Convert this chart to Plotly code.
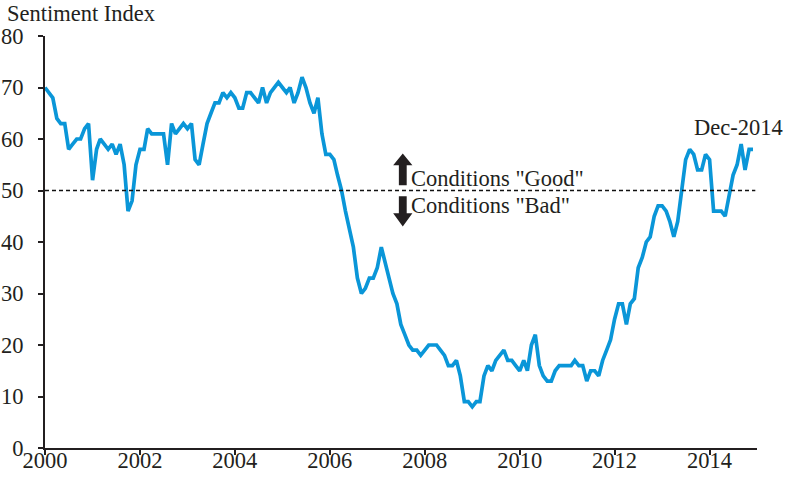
import pandas as pd
import plotly.graph_objects as go

# Monthly sentiment index, Jan 2000 - Dec 2014
values_2000 = [70, 69, 68, 64, 63, 63, 58, 59, 60, 60, 62, 63]
values_2001 = [52, 58, 60, 59, 58, 59, 57, 59, 55, 46, 48, 55]
values_2002 = [58, 58, 62, 61, 61, 61, 61, 55, 63, 61, 62, 63]
values_2003 = [62, 63, 56, 55, 59, 63, 65, 67, 67, 69, 68, 69]
values_2004 = [68, 66, 66, 69, 69, 68, 67, 70, 67, 69, 70, 71]
values_2005 = [70, 69, 70, 67, 69, 72, 70, 67, 65, 68, 61, 57]
values_2006 = [57, 56, 53, 50, 46, 42, 39, 33, 30, 31, 33, 33]
values_2007 = [35, 39, 36, 33, 30, 28, 24, 22, 20, 19, 19, 18]
values_2008 = [19, 20, 20, 20, 19, 18, 16, 16, 17, 14, 9, 9]
values_2009 = [8, 9, 9, 14, 16, 15, 17, 18, 19, 17, 17, 16]
values_2010 = [15, 17, 15, 20, 22, 16, 14, 13, 13, 15, 16, 16]
values_2011 = [16, 16, 17, 16, 16, 13, 15, 15, 14, 17, 19, 21]
values_2012 = [25, 28, 28, 24, 28, 29, 35, 37, 40, 41, 45, 47]
values_2013 = [47, 46, 44, 41, 44, 50, 56, 58, 57, 54, 54, 57]
values_2014 = [56, 46, 46, 46, 45, 49, 53, 55, 59, 54, 58, 58]

sentiment = (values_2000 + values_2001 + values_2002 + values_2003 + values_2004
             + values_2005 + values_2006 + values_2007 + values_2008 + values_2009
             + values_2010 + values_2011 + values_2012 + values_2013 + values_2014)
months = pd.date_range("2000-01-01", periods=len(sentiment), freq="MS")

x_tick_years = ["2000", "2002", "2004", "2006", "2008", "2010", "2012", "2014"]
y_ticks = [0, 10, 20, 30, 40, 50, 60, 70, 80]
threshold = 50

FONT = "Liberation Serif"
FS = 22.5
TXT = "#231f20"
BLUE = "#0a96d8"

fig = go.Figure()
fig.add_trace(go.Scatter(x=months, y=sentiment, mode="lines",
                         line=dict(color=BLUE, width=3.7), hoverinfo="x+y",
                         showlegend=False))

# dashed threshold line
fig.add_shape(type="line", xref="paper", yref="y", x0=0, x1=0.9976,
              y0=threshold, y1=threshold,
              line=dict(color="#111111", width=1.4, dash="4px,3px"))

# arrows (up / down) as filled polygons
cx, hw, sw = 0.5025, 0.0135, 0.0055
up = (f"M {cx-sw} 51.0 L {cx-sw} 54.9 L {cx-hw} 54.9 L {cx} 57.2 "
      f"L {cx+hw} 54.9 L {cx+sw} 54.9 L {cx+sw} 51.0 Z")
down = (f"M {cx-sw} 48.9 L {cx-sw} 45.6 L {cx-hw} 45.6 L {cx} 43.0 "
        f"L {cx+hw} 45.6 L {cx+sw} 45.6 L {cx+sw} 48.9 Z")
for p in (up, down):
    fig.add_shape(type="path", xref="paper", yref="y", path=p,
                  fillcolor="#231f20", line=dict(width=0))

ann_font = dict(family=FONT, size=FS, color=TXT)
fig.add_annotation(xref="paper", yref="y", x=0.5117, y=52.3, text='Conditions "Good"',
                   showarrow=False, xanchor="left", yanchor="middle", font=ann_font)
fig.add_annotation(xref="paper", yref="y", x=0.5117, y=47.1, text='Conditions "Bad"',
                   showarrow=False, xanchor="left", yanchor="middle", font=ann_font)
fig.add_annotation(xref="paper", yref="y", x=0.9735, y=62.3, text="Dec-2014",
                   showarrow=False, xanchor="center", yanchor="middle", font=ann_font)
fig.add_annotation(xref="paper", yref="paper", x=-0.0558, y=1.054, text="Sentiment Index",
                   showarrow=False, xanchor="left", yanchor="middle", font=ann_font)

axis_common = dict(showgrid=False, zeroline=False, showline=True, linecolor=TXT,
                   linewidth=2, ticks="outside", ticklen=5, tickwidth=2,
                   tickcolor=TXT, automargin=False,
                   tickfont=dict(family=FONT, size=FS, color=TXT))

fig.update_layout(
    width=790, height=483,
    margin=dict(l=45, r=33, t=36, b=35),
    paper_bgcolor="white", plot_bgcolor="white",
    font=dict(family=FONT, size=FS, color=TXT),
    xaxis=dict(type="date", range=["2000-01-01", "2015-01-01"],
               tickvals=[pd.Timestamp(f"{y}-01-01") for y in x_tick_years],
               ticktext=x_tick_years, ticklabelstandoff=-14, **axis_common),
    yaxis=dict(range=[0, 80], tickvals=y_ticks, ticklabelstandoff=10, **axis_common),
)

fig.write_html("out.html",
               config={"displayModeBar": False},
               post_script="document.body.style.margin='0';document.body.style.overflow='hidden';")
